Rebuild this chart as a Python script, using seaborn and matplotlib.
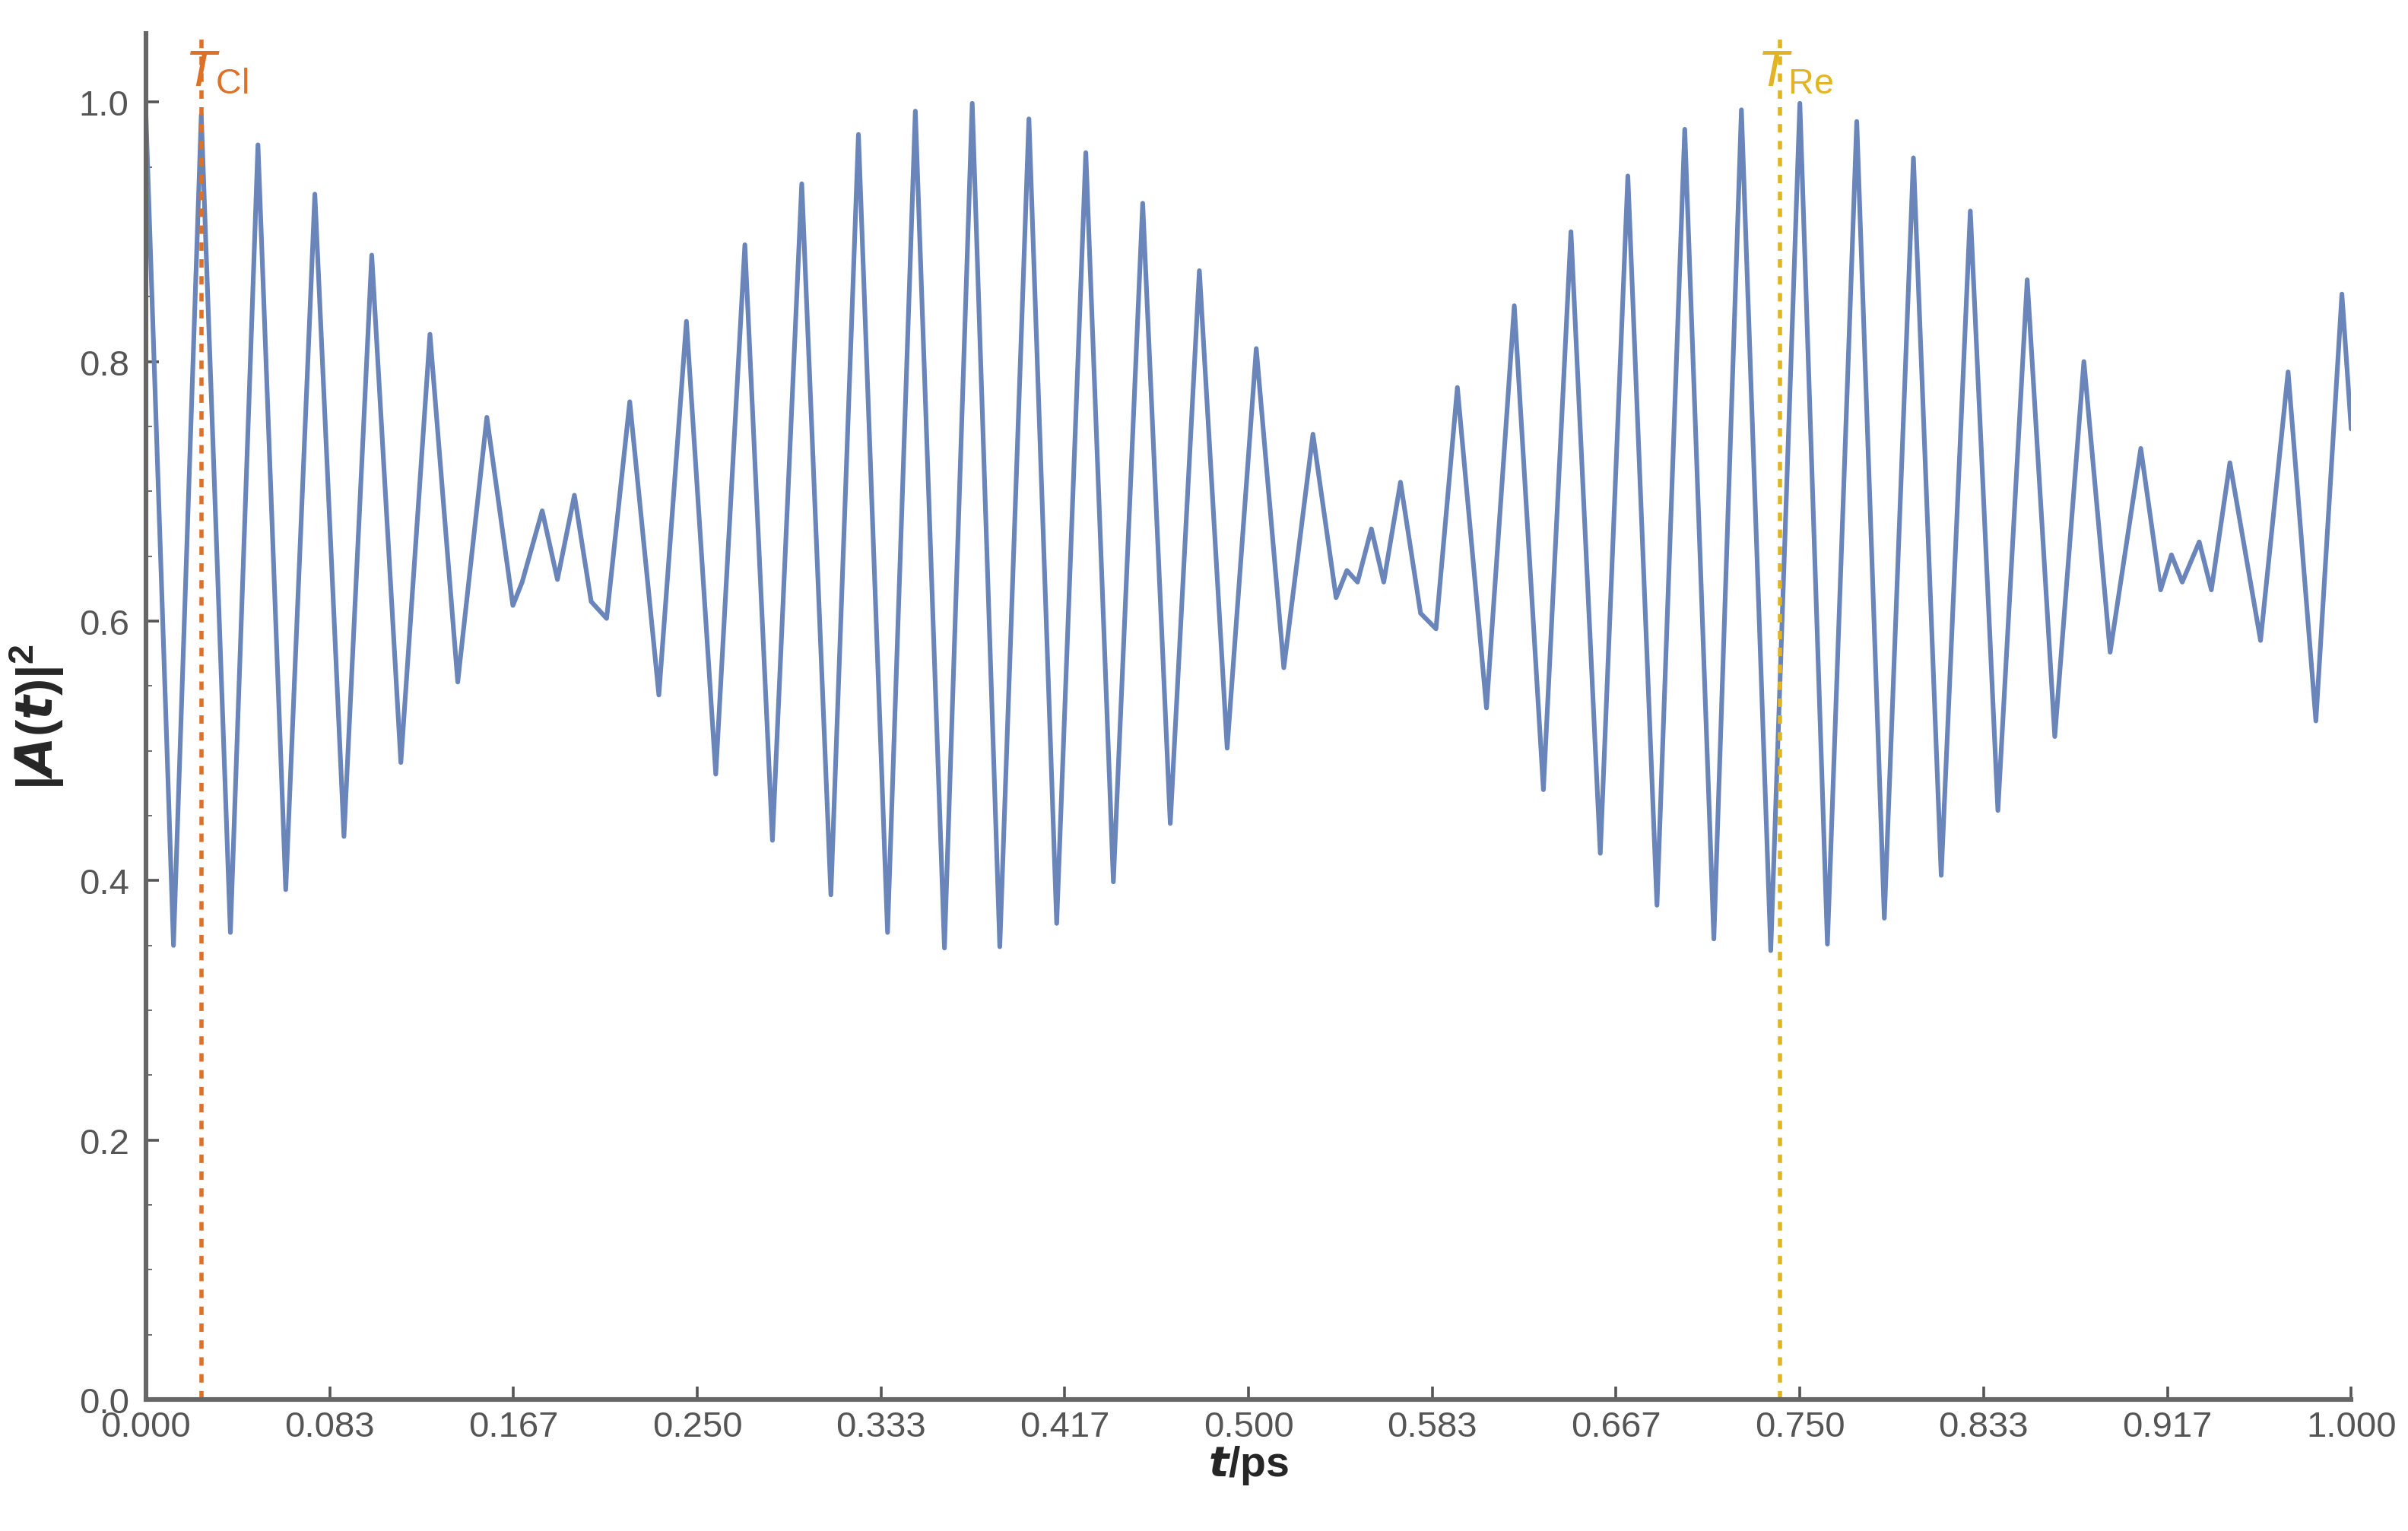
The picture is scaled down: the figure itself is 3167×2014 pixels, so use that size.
import numpy as np
import matplotlib
matplotlib.use("Agg")
import matplotlib.pyplot as plt
import seaborn as sns
import pandas as pd

# extrema of |A(t)|^2
t_vals = [0.000, 0.0125, 0.0251, 0.0383, 0.0508, 0.0634, 0.0766, 0.0898, 0.1024, 0.1156,
          0.1288, 0.1414, 0.1546, 0.1664, 0.1706, 0.1797, 0.1866, 0.1943, 0.2019, 0.2089,
          0.2194, 0.2326, 0.2451, 0.2584, 0.2716, 0.2841, 0.2974, 0.3106, 0.3231, 0.3363,
          0.3489, 0.3621, 0.3747, 0.3872, 0.4004, 0.4130, 0.4262, 0.4387, 0.4520, 0.4645,
          0.4777, 0.4903, 0.5035, 0.5160, 0.5292, 0.5397, 0.5446, 0.5494, 0.5557, 0.5613,
          0.5689, 0.5780, 0.5850, 0.5947, 0.6079, 0.6205, 0.6337, 0.6462, 0.6595, 0.6720,
          0.6852, 0.6978, 0.7110, 0.7235, 0.7368, 0.7500, 0.7625, 0.7758, 0.7883, 0.8015,
          0.8141, 0.8273, 0.8398, 0.8531, 0.8656, 0.8788, 0.8907, 0.9046, 0.9136, 0.9185,
          0.9234, 0.9311, 0.9366, 0.9450, 0.9589, 0.9714, 0.9840, 0.9958, 1.000]
a_vals = [0.990, 0.350, 0.990, 0.360, 0.967, 0.393, 0.929, 0.434, 0.882, 0.491,
          0.821, 0.553, 0.757, 0.612, 0.630, 0.685, 0.632, 0.697, 0.615, 0.602,
          0.769, 0.543, 0.831, 0.482, 0.890, 0.431, 0.937, 0.389, 0.975, 0.360,
          0.993, 0.348, 0.999, 0.349, 0.987, 0.367, 0.961, 0.399, 0.922, 0.444,
          0.870, 0.502, 0.810, 0.564, 0.744, 0.618, 0.639, 0.630, 0.671, 0.630,
          0.707, 0.606, 0.594, 0.780, 0.533, 0.843, 0.470, 0.900, 0.421, 0.943,
          0.381, 0.979, 0.355, 0.994, 0.346, 0.999, 0.351, 0.985, 0.371, 0.957,
          0.404, 0.916, 0.454, 0.863, 0.511, 0.800, 0.576, 0.733, 0.624, 0.651,
          0.630, 0.661, 0.624, 0.722, 0.585, 0.792, 0.523, 0.852, 0.748]
t_cl = 0.0251
t_re = 0.741

df = pd.DataFrame({"t": t_vals, "A2": a_vals})

sns.set_style("ticks")
plt.rcParams["font.family"] = ["Liberation Sans", "DejaVu Sans"]
plt.rcParams["mathtext.fontset"] = "custom"
plt.rcParams["mathtext.it"] = "Liberation Sans:italic"
plt.rcParams["mathtext.rm"] = "Liberation Sans"
plt.rcParams["mathtext.bf"] = "Liberation Sans:bold"

fig = plt.figure(figsize=(15.835, 10.075), dpi=200)
ax = fig.add_axes([0.0606, 0.0858, 0.9158, 0.892])
sns.lineplot(data=df, x="t", y="A2", ax=ax, color="#6A85BA", lw=2.2)

ax.axvline(t_cl, color="#DD7127", ls=(0, (2, 2)), lw=2)
ax.axvline(t_re, color="#E3B421", ls=(0, (2, 2)), lw=2)
ax.text(t_cl + 0.007, 1.005, r"$T_{\mathrm{Cl}}$", color="#DD7127", fontsize=24, ha="center", va="bottom")
ax.text(t_re + 0.007, 1.005, r"$T_{\mathrm{Re}}$", color="#E3B421", fontsize=24, ha="center", va="bottom")

ax.set_xlim(0, 1.0)
ax.set_ylim(0, 1.053)
xt = np.arange(13) / 12
ax.set_xticks(xt)
ax.set_xticklabels([f"{v:.3f}" for v in xt])
ax.set_yticks([0, 0.2, 0.4, 0.6, 0.8, 1.0])
ax.set_yticklabels(["0.0", "0.2", "0.4", "0.6", "0.8", "1.0"])
ax.set_yticks(np.arange(0, 1.05, 0.05), minor=True)
ax.tick_params(labelsize=17, colors="#555555", length=6, width=1.3, direction="in")
ax.tick_params(axis="y", pad=8)
ax.tick_params(axis="x", pad=5)
ax.tick_params(which="minor", length=3, direction="in", colors="#555555")
for s in ["top", "right"]:
    ax.spines[s].set_visible(False)
for s in ["left", "bottom"]:
    ax.spines[s].set_color("#666666")
    ax.spines[s].set_linewidth(2.2)

ax.set_xlabel(r"$\boldsymbol{t}$/ps", fontsize=20, fontweight="bold", labelpad=0)
ax.set_ylabel(r"$\mathbf{|}\boldsymbol{A(t)}\mathbf{|^2}$", fontsize=24, labelpad=6)

fig.savefig("out.png", dpi=200)
